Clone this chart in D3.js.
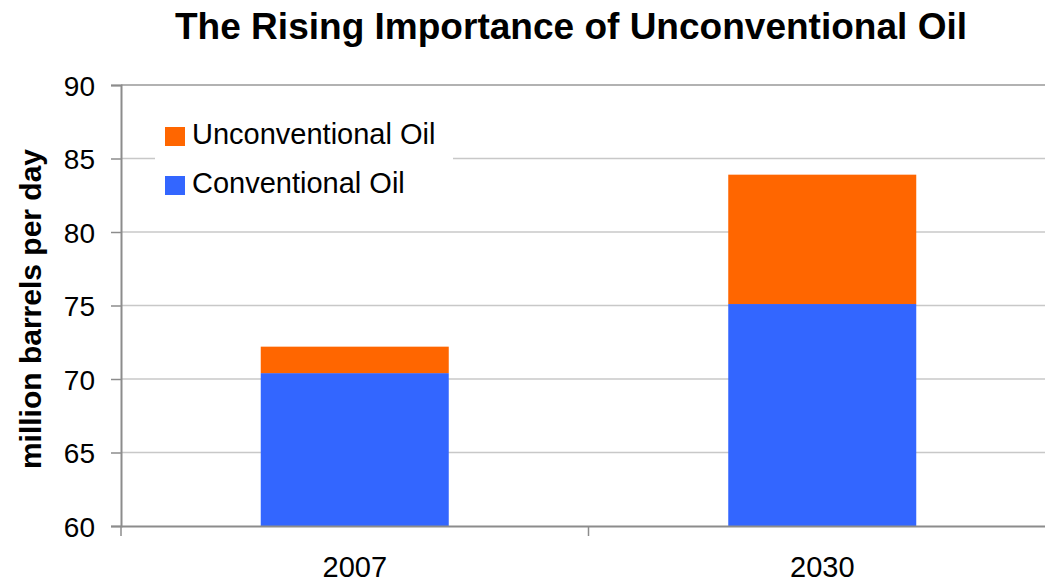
<!DOCTYPE html>
<html><head><meta charset="utf-8">
<script src="https://cdn.jsdelivr.net/npm/d3@7"></script>
<style>body{margin:0;background:#fff;} text{font-family:Arial,"Liberation Sans",sans-serif;}</style>
</head><body>
<svg id="c" width="1045" height="583"></svg>
<script>
const categories = ["2007", "2030"];
const conventional = [70.4, 75.1];
const unconventional = [1.8, 8.8];
const seriesNames = ["Unconventional Oil", "Conventional Oil"];
const colors = {"Conventional Oil": "#3366FF", "Unconventional Oil": "#FF6600"};
const yTicks = [60, 65, 70, 75, 80, 85, 90];

const svg = d3.select("#c");
const m = {left: 121, right: 1056, top: 85, bottom: 526};
const x = d3.scaleBand().domain(categories).range([m.left, m.right]).paddingInner(0).paddingOuter(0);
const y = d3.scaleLinear().domain([60, 90]).range([m.bottom, m.top]);

// gridlines
svg.append("g").selectAll("line").data(yTicks.filter(t => t > 60 && t < 90)).join("line")
  .attr("x1", m.left).attr("x2", m.right).attr("y1", d => y(d)).attr("y2", d => y(d))
  .attr("stroke", "#c8c8c8").attr("stroke-width", 1.5);
svg.append("line").attr("x1", m.left).attr("x2", m.right).attr("y1", y(90)).attr("y2", y(90))
  .attr("stroke", "#999").attr("stroke-width", 1.5);

// stacked data
const rows = categories.map((c, i) => ({cat: c, "Conventional Oil": conventional[i], "Unconventional Oil": unconventional[i]}));
const stack = d3.stack().keys(["Conventional Oil", "Unconventional Oil"]);
const layers = stack(rows);
const bw = 188;
svg.append("g").selectAll("g").data(layers).join("g").attr("fill", d => colors[d.key])
  .selectAll("rect").data(d => d).join("rect")
  .attr("x", d => x(d.data.cat) + x.bandwidth() / 2 - bw / 2)
  .attr("width", bw)
  .attr("y", d => y(d[1]))
  .attr("height", d => y(Math.max(60, d[0])) - y(d[1]));

// axes
const yAxis = svg.append("g").attr("transform", `translate(${m.left},0)`)
  .call(d3.axisLeft(y).tickValues(yTicks).tickSize(10).tickPadding(16).tickFormat(d3.format("d")));
yAxis.select(".domain").attr("stroke", "#8c8c8c").attr("stroke-width", 2);
yAxis.selectAll(".tick line").attr("stroke", "#8c8c8c").attr("stroke-width", 1.5);
yAxis.selectAll(".tick text").attr("font-size", 28).attr("fill", "#000").attr("font-family", "Arial, 'Liberation Sans', sans-serif").attr("dy", "0.36em");

const xAxis = svg.append("g").attr("transform", `translate(0,${m.bottom})`)
  .call(d3.axisBottom(x).tickSize(0).tickPadding(0));
xAxis.select(".domain").attr("stroke", "#8c8c8c").attr("stroke-width", 2);
xAxis.selectAll(".tick text").attr("font-size", 29).attr("fill", "#000").attr("font-family", "Arial, 'Liberation Sans', sans-serif")
  .attr("dy", null).attr("y", 51);
// category boundary ticks
svg.append("g").selectAll("line").data(categories.concat(["__end"])).join("line")
  .attr("x1", (d, i) => m.left + i * x.bandwidth()).attr("x2", (d, i) => m.left + i * x.bandwidth())
  .attr("y1", m.bottom).attr("y2", m.bottom + 10)
  .attr("stroke", "#8c8c8c").attr("stroke-width", 1.5);

// legend
const lg = svg.append("g");
lg.append("rect").attr("x", 155).attr("y", 110).attr("width", 298).attr("height", 94).attr("fill", "#fff");
seriesNames.forEach((s, i) => {
  lg.append("rect").attr("x", 165).attr("y", 127 + i * 49).attr("width", 20).attr("height", 19).attr("fill", colors[s]);
  lg.append("text").attr("x", 192).attr("y", 144 + i * 49).attr("font-size", 29).attr("fill", "#000").text(s);
});

// title
svg.append("text").attr("x", 571).attr("y", 39).attr("text-anchor", "middle")
  .attr("font-size", 36).attr("font-weight", "bold").attr("textLength", 792).attr("lengthAdjust", "spacingAndGlyphs")
  .text("The Rising Importance of Unconventional Oil");

// y label
svg.append("text").attr("transform", "translate(41,309) rotate(-90)").attr("text-anchor", "middle")
  .attr("font-size", 30).attr("font-weight", "bold").text("million barrels per day");
</script>
</body></html>
